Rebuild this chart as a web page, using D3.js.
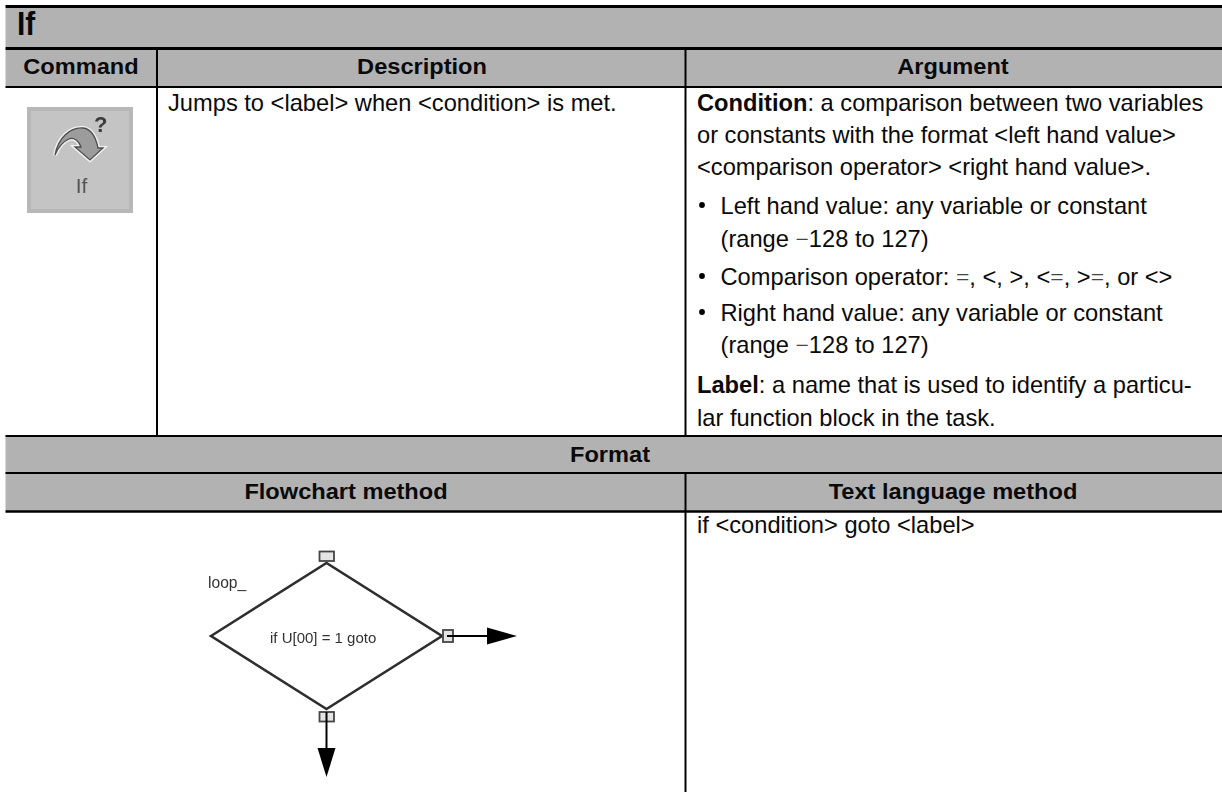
<!DOCTYPE html>
<html>
<head>
<meta charset="utf-8">
<script src="https://cdn.jsdelivr.net/npm/d3@7"></script>
<style>
html,body{margin:0;padding:0;background:#fff}
svg{display:block}
text{font-family:"Liberation Sans",Arial,sans-serif;fill:#0a0a0a}
</style>
</head>
<body>
<script>
// table content
var bandNames = ["title","head","format","method"];
var titleLabel = "If";
var headLabels = ["Command","Description","Argument"];
var formatLabel = "Format";
var methodLabels = ["Flowchart method","Text language method"];
var columnNames = ["command","description","argument"];
var methodColumns = ["flowchart","text"];

var descriptionLine = "Jumps to <label> when <condition> is met.";
var textMethodLine = "if <condition> goto <label>";
// each piece is [text, kind], kind: n normal, b bold, s thin symbol
var argumentLines = [
	[["Condition","b"],[": a comparison between two variables","n"]],
	[["or constants with the format <left hand value>","n"]],
	[["<comparison operator> <right hand value>.","n"]],
	[["Left hand value: any variable or constant","n"]],
	[["(range ","n"],["\u2212","s"],["128 to 127)","n"]],
	[["Comparison operator: ","n"],["=","s"],[", <, >, <","n"],["=","s"],[", >","n"],["=","s"],[", or <>","n"]],
	[["Right hand value: any variable or constant","n"]],
	[["(range ","n"],["\u2212","s"],["128 to 127)","n"]],
	[["Label","b"],[": a name that is used to identify a particu-","n"]],
	[["lar function block in the task.","n"]]
];
var bulletLines = [3,5,6];
var indentLines = [3,4,5,6,7];

// flowchart nodes
var flowNodes = ["center","left","right","top","bottom"];
var flowX = [0,-116,116,0,0];
var flowY = [0,0,0,-73,73];

var w = 1222,h = 792;
var svg = d3.select("body").append("svg")
	.attr("width",w)
	.attr("height",h);

var defs = svg.append("defs");
defs.append("filter").attr("id","soft")
	.append("feGaussianBlur").attr("stdDeviation",0.45);
defs.append("filter").attr("id","softer")
	.append("feGaussianBlur").attr("stdDeviation",0.7);

// scales holding the page layout
var bandTop = d3.scaleOrdinal().domain(bandNames).range([8,50,436,473]);
var bandBottom = d3.scaleOrdinal().domain(bandNames).range([47,86,473,511]);
var colEdge = d3.scaleOrdinal().domain(columnNames).range([157,685.5,1222]);
var colCenter = d3.scaleOrdinal().domain(columnNames).range([81,422,953]);
var methodCenter = d3.scaleOrdinal().domain(methodColumns).range([346,953]);
var lineY = d3.scaleOrdinal().domain(d3.range(10))
	.range([111,143,175,214,247,285,321,353,393,426]);
var flowXs = d3.scaleLinear().domain([-116,116]).range([211,442]);
var flowYs = d3.scaleLinear().domain([-73,73]).range([563,709]);

var headSize = 22.5,headStretch = 1.05;
var bodySize = 23,bodyStretch = 1.03;

function place(sel,x,y,sx)
{
	return sel.attr("transform","translate("+x+","+y+") scale("+sx+",1)");
}

// grey bands
svg.selectAll("rect.band")
	.data(bandNames)
	.enter()
	.append("rect")
	.attr("class","band")
	.attr("x",5.5)
	.attr("y",function(d){return(bandTop(d));})
	.attr("width",w-5.5)
	.attr("height",function(d){return(bandBottom(d)-bandTop(d));})
	.attr("fill","#b2b2b2");

// horizontal rules
var ruleNames = ["top","title","head","row","format","method"];
var ruleY = d3.scaleOrdinal().domain(ruleNames).range([6.5,48.5,87,436,473,511.5]);
var ruleWidth = d3.scaleOrdinal().domain(ruleNames).range([3,3,2,2,2,2.4]);
svg.selectAll("line.rule")
	.data(ruleNames)
	.enter()
	.append("line")
	.attr("class","rule")
	.attr("x1",5.5)
	.attr("x2",w)
	.attr("y1",function(d){return(ruleY(d));})
	.attr("y2",function(d){return(ruleY(d));})
	.attr("stroke","#000")
	.attr("stroke-width",function(d){return(ruleWidth(d));});

// vertical rules
function vrule(x,y1,y2)
{
	svg.append("line")
	.attr("x1",x).attr("x2",x)
	.attr("y1",y1).attr("y2",y2)
	.attr("stroke","#000")
	.attr("stroke-width",2);
}
vrule(colEdge("command"),49,436);
vrule(colEdge("description"),49,436);
vrule(colEdge("description"),473,h);

// band labels
svg.append("text").attr("font-size",32.5).attr("font-weight","bold").text(titleLabel)
	.call(place,17,35,0.92);
svg.selectAll("text.head")
	.data(headLabels)
	.enter()
	.append("text")
	.attr("class","head")
	.attr("text-anchor","middle")
	.attr("font-size",headSize)
	.attr("font-weight","bold")
	.attr("transform",function(d,i){return("translate("+colCenter(columnNames[i])+",74) scale("+headStretch+",1)");})
	.text(function(d){return(d);});
svg.append("text").attr("text-anchor","middle").attr("font-size",headSize).attr("font-weight","bold").text(formatLabel)
	.call(place,610,462,headStretch);
svg.selectAll("text.method")
	.data(methodLabels)
	.enter()
	.append("text")
	.attr("class","method")
	.attr("text-anchor","middle")
	.attr("font-size",headSize)
	.attr("font-weight","bold")
	.attr("transform",function(d,i){return("translate("+methodCenter(methodColumns[i])+",499) scale("+headStretch+",1)");})
	.text(function(d){return(d);});

// body text
svg.append("text").attr("font-size",bodySize).text(descriptionLine).call(place,168,111,bodyStretch);
svg.append("text").attr("font-size",bodySize).text(textMethodLine).call(place,697,533,bodyStretch);

var lines = svg.selectAll("text.arg")
	.data(argumentLines)
	.enter()
	.append("text")
	.attr("class","arg")
	.attr("font-size",bodySize)
	.attr("transform",function(d,i){return("translate("+(indentLines.indexOf(i)>=0?720.5:697)+","+lineY(i)+") scale("+bodyStretch+",1)");});
lines.selectAll("tspan")
	.data(function(d){return(d);})
	.enter()
	.append("tspan")
	.attr("font-weight",function(d){return(d[1]=="b"?"bold":"normal");})
	.style("font-family",function(d){return(d[1]=="s"?"Liberation Serif":null);})
	.style("fill",function(d){return(d[1]=="s"?"#444":null);})
	.text(function(d){return(d[0]);});

svg.selectAll("circle.bullet")
	.data(bulletLines)
	.enter()
	.append("circle")
	.attr("class","bullet")
	.attr("cx",702)
	.attr("cy",function(d){return(lineY(d)-9);})
	.attr("r",2.9)
	.attr("fill","#000");

// If icon
var icon = svg.append("g");
icon.append("rect").attr("x",27).attr("y",107).attr("width",106).attr("height",106).attr("fill","#b7b7b7");
icon.append("rect").attr("x",31).attr("y",111).attr("width",98).attr("height",98).attr("fill","#c4c4c4");
var arrowPath = "M55 155C58 138 70 127 83 128C92 129 96 138 98 148L103 148L90 160L75 147L81 147C79 141 74 137 69 139C62 142 58 148 55 155Z";
icon.append("path").attr("d",arrowPath)
	.attr("fill","none").attr("stroke","#f2f2f2").attr("stroke-width",4).attr("filter","url(#softer)");
icon.append("path").attr("d",arrowPath)
	.attr("fill","#9c9c9c").attr("stroke","#4d4d4d").attr("stroke-width",1.3).attr("filter","url(#soft)");
icon.append("text").attr("x",94).attr("y",132).attr("font-size",22).attr("font-weight","bold")
	.style("fill","#3a3a3a").attr("filter","url(#soft)").text("?");
icon.append("text").attr("x",81.5).attr("y",193).attr("text-anchor","middle").attr("font-size",21)
	.style("fill","#555").attr("filter","url(#soft)").text("If");

// flowchart
var flow = svg.append("g");
function fx(name){return(flowXs(flowX[flowNodes.indexOf(name)]));}
function fy(name){return(flowYs(flowY[flowNodes.indexOf(name)]));}

flow.append("polygon")
	.attr("points",["left","top","right","bottom"].map(function(n){return(fx(n)+","+fy(n));}).join(" "))
	.attr("fill","#fff")
	.attr("stroke","#2d2d2d")
	.attr("stroke-width",2.6)
	.attr("filter","url(#soft)");

// connector squares
flow.selectAll("rect.port")
	.data(["top","right","bottom"])
	.enter()
	.append("rect")
	.attr("class","port")
	.attr("x",function(d){return(fx(d)+(d=="right"?1:-7));})
	.attr("y",function(d){return(fy(d)+(d=="right"?-6:d=="top"?-11.5:3));})
	.attr("width",function(d){return(d=="right"?10:14.5);})
	.attr("height",function(d){return(d=="right"?12:9.5);})
	.attr("fill","#e4e4e4")
	.attr("stroke","#444")
	.attr("stroke-width",1.8)
	.attr("filter","url(#soft)");

flow.append("text").attr("x",208).attr("y",588).attr("font-size",15.6).attr("filter","url(#soft)")
	.style("fill","#333").text("loop_");
flow.append("text").attr("x",270).attr("y",643).attr("font-size",15).attr("filter","url(#soft)")
	.style("fill","#333").text("if U[00] = 1 goto");

// arrows
flow.append("line").attr("x1",fx("right")+5).attr("x2",fx("right")+46)
	.attr("y1",fy("right")).attr("y2",fy("right")).attr("stroke","#000").attr("stroke-width",2);
flow.append("polygon")
	.attr("points",[[fx("right")+45,fy("right")-8.5],[fx("right")+75,fy("right")],[fx("right")+45,fy("right")+8.5]].join(" "))
	.attr("fill","#000");
flow.append("line").attr("x1",fx("bottom")).attr("x2",fx("bottom"))
	.attr("y1",fy("bottom")+3).attr("y2",fy("bottom")+40).attr("stroke","#000").attr("stroke-width",2);
flow.append("polygon")
	.attr("points",[[fx("bottom")-9,fy("bottom")+39],[fx("bottom"),fy("bottom")+68],[fx("bottom")+9,fy("bottom")+39]].join(" "))
	.attr("fill","#000");
</script>
</body>
</html>
